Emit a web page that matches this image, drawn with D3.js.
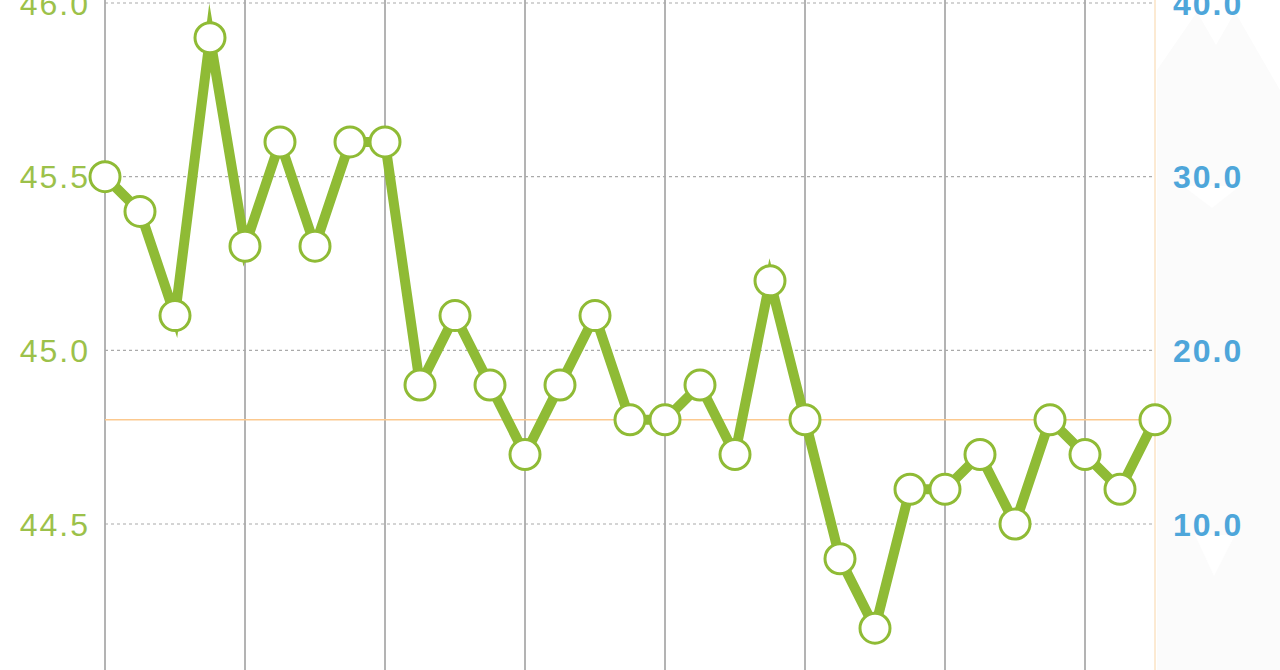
<!DOCTYPE html>
<html>
<head>
<meta charset="utf-8">
<title>Line chart</title>
<script src="https://d3js.org/d3.v7.min.js"></script>
<style>
    body { margin: 0; background: #fff; }
    svg { display: block; font-family: "Liberation Sans", "DejaVu Sans", sans-serif; }
</style>
</head>
<body>
<div id="chart"></div>
<script>
    // values
    var values = [45.5, 45.4, 45.1, 45.9, 45.3, 45.6, 45.3, 45.6, 45.6, 44.9,
                  45.1, 44.9, 44.7, 44.9, 45.1, 44.8, 44.8, 44.9, 44.7, 45.2,
                  44.8, 44.4, 44.2, 44.6, 44.6, 44.7, 44.5, 44.8, 44.7, 44.6, 44.8];
    var leftTicks = [44.5, 45.0, 45.5, 46.0];
    var rightTicks = [10, 20, 30, 40];
    var refValue = 44.8;
    var gridEvery = 4;

    var width = 1280, height = 670;
    var x0 = 105, x1 = 1155;

    var svg = d3.select("#chart").append("svg")
        .attr("width", width)
        .attr("height", height);

    var x = d3.scaleLinear().domain([0, values.length - 1]).range([x0, x1]);
    var y = d3.scaleLinear().domain([44.5, 46.0]).range([524, 3]);
    var yR = d3.scaleLinear().domain([10, 40]).range([524, 3]);

    // faint panel right of the plot, with white notches
    svg.append("rect")
        .attr("x", x1 + 2).attr("y", 0)
        .attr("width", width - x1 - 2).attr("height", height)
        .attr("fill", "#fbfbfb");
    var notches = [
        [[1157, 0], [1157, 70], [1197, 12], [1216, 45], [1235, 12], [1280, 90], [1280, 0]],
        [[1183, 186], [1240, 186], [1212, 208]],
        [[1195, 535], [1235, 535], [1214, 576]]
    ];
    svg.selectAll("path.notch").data(notches).enter().append("path")
        .attr("class", "notch")
        .attr("d", function (p) { return "M" + p.join("L") + "Z"; })
        .attr("fill", "#fff");

    // vertical grid
    var vTicks = d3.range(0, values.length - 1, gridEvery);
    svg.selectAll("line.v").data(vTicks).enter().append("line")
        .attr("class", "v")
        .attr("x1", function (d) { return x(d); }).attr("x2", function (d) { return x(d); })
        .attr("y1", 0).attr("y2", height)
        .attr("stroke", "#9a9a9a").attr("stroke-width", 1.5);

    // right axis line
    svg.append("line")
        .attr("x1", x1).attr("x2", x1).attr("y1", 0).attr("y2", height)
        .attr("stroke", "#fbe3c4").attr("stroke-width", 1.5);

    // horizontal dotted grid
    svg.selectAll("line.h").data(leftTicks).enter().append("line")
        .attr("class", "h")
        .attr("x1", x0).attr("x2", x1)
        .attr("y1", function (d) { return y(d); }).attr("y2", function (d) { return y(d); })
        .attr("stroke", "#aaaaaa").attr("stroke-width", 1.2)
        .attr("stroke-dasharray", "3,3");

    // left labels
    svg.selectAll("text.l").data(leftTicks).enter().append("text")
        .attr("class", "l")
        .attr("x", 90).attr("y", function (d) { return y(d); })
        .attr("dy", "0.36em")
        .attr("text-anchor", "end")
        .attr("font-size", 32)
        .attr("letter-spacing", 2)
        .attr("fill", "#9cc14a")
        .text(function (d) { return d3.format(".1f")(d); });

    // right labels
    svg.selectAll("text.r").data(rightTicks).enter().append("text")
        .attr("class", "r")
        .attr("x", 1173).attr("y", function (d) { return yR(d); })
        .attr("dy", "0.36em")
        .attr("font-size", 32)
        .attr("font-weight", "bold")
        .attr("letter-spacing", 2)
        .attr("fill", "#4ea6da")
        .text(function (d) { return d3.format(".1f")(d); });

    // reference line
    svg.append("line")
        .attr("x1", x0).attr("x2", x1)
        .attr("y1", y(refValue)).attr("y2", y(refValue))
        .attr("stroke", "#fcc98f").attr("stroke-width", 1.5);

    // series line
    var line = d3.line()
        .x(function (d, i) { return x(i); })
        .y(function (d) { return y(d); });
    svg.append("path")
        .datum(values)
        .attr("d", line)
        .attr("fill", "none")
        .attr("stroke", "#8fbb35")
        .attr("stroke-width", 10)
        .attr("stroke-linejoin", "miter")
        .attr("stroke-miterlimit", 10);

    // markers
    svg.selectAll("circle.pt").data(values).enter().append("circle")
        .attr("class", "pt")
        .attr("cx", function (d, i) { return x(i); })
        .attr("cy", function (d) { return y(d); })
        .attr("r", 15)
        .attr("fill", "#fff")
        .attr("stroke", "#8fbb35")
        .attr("stroke-width", 3);
</script>
</body>
</html>
